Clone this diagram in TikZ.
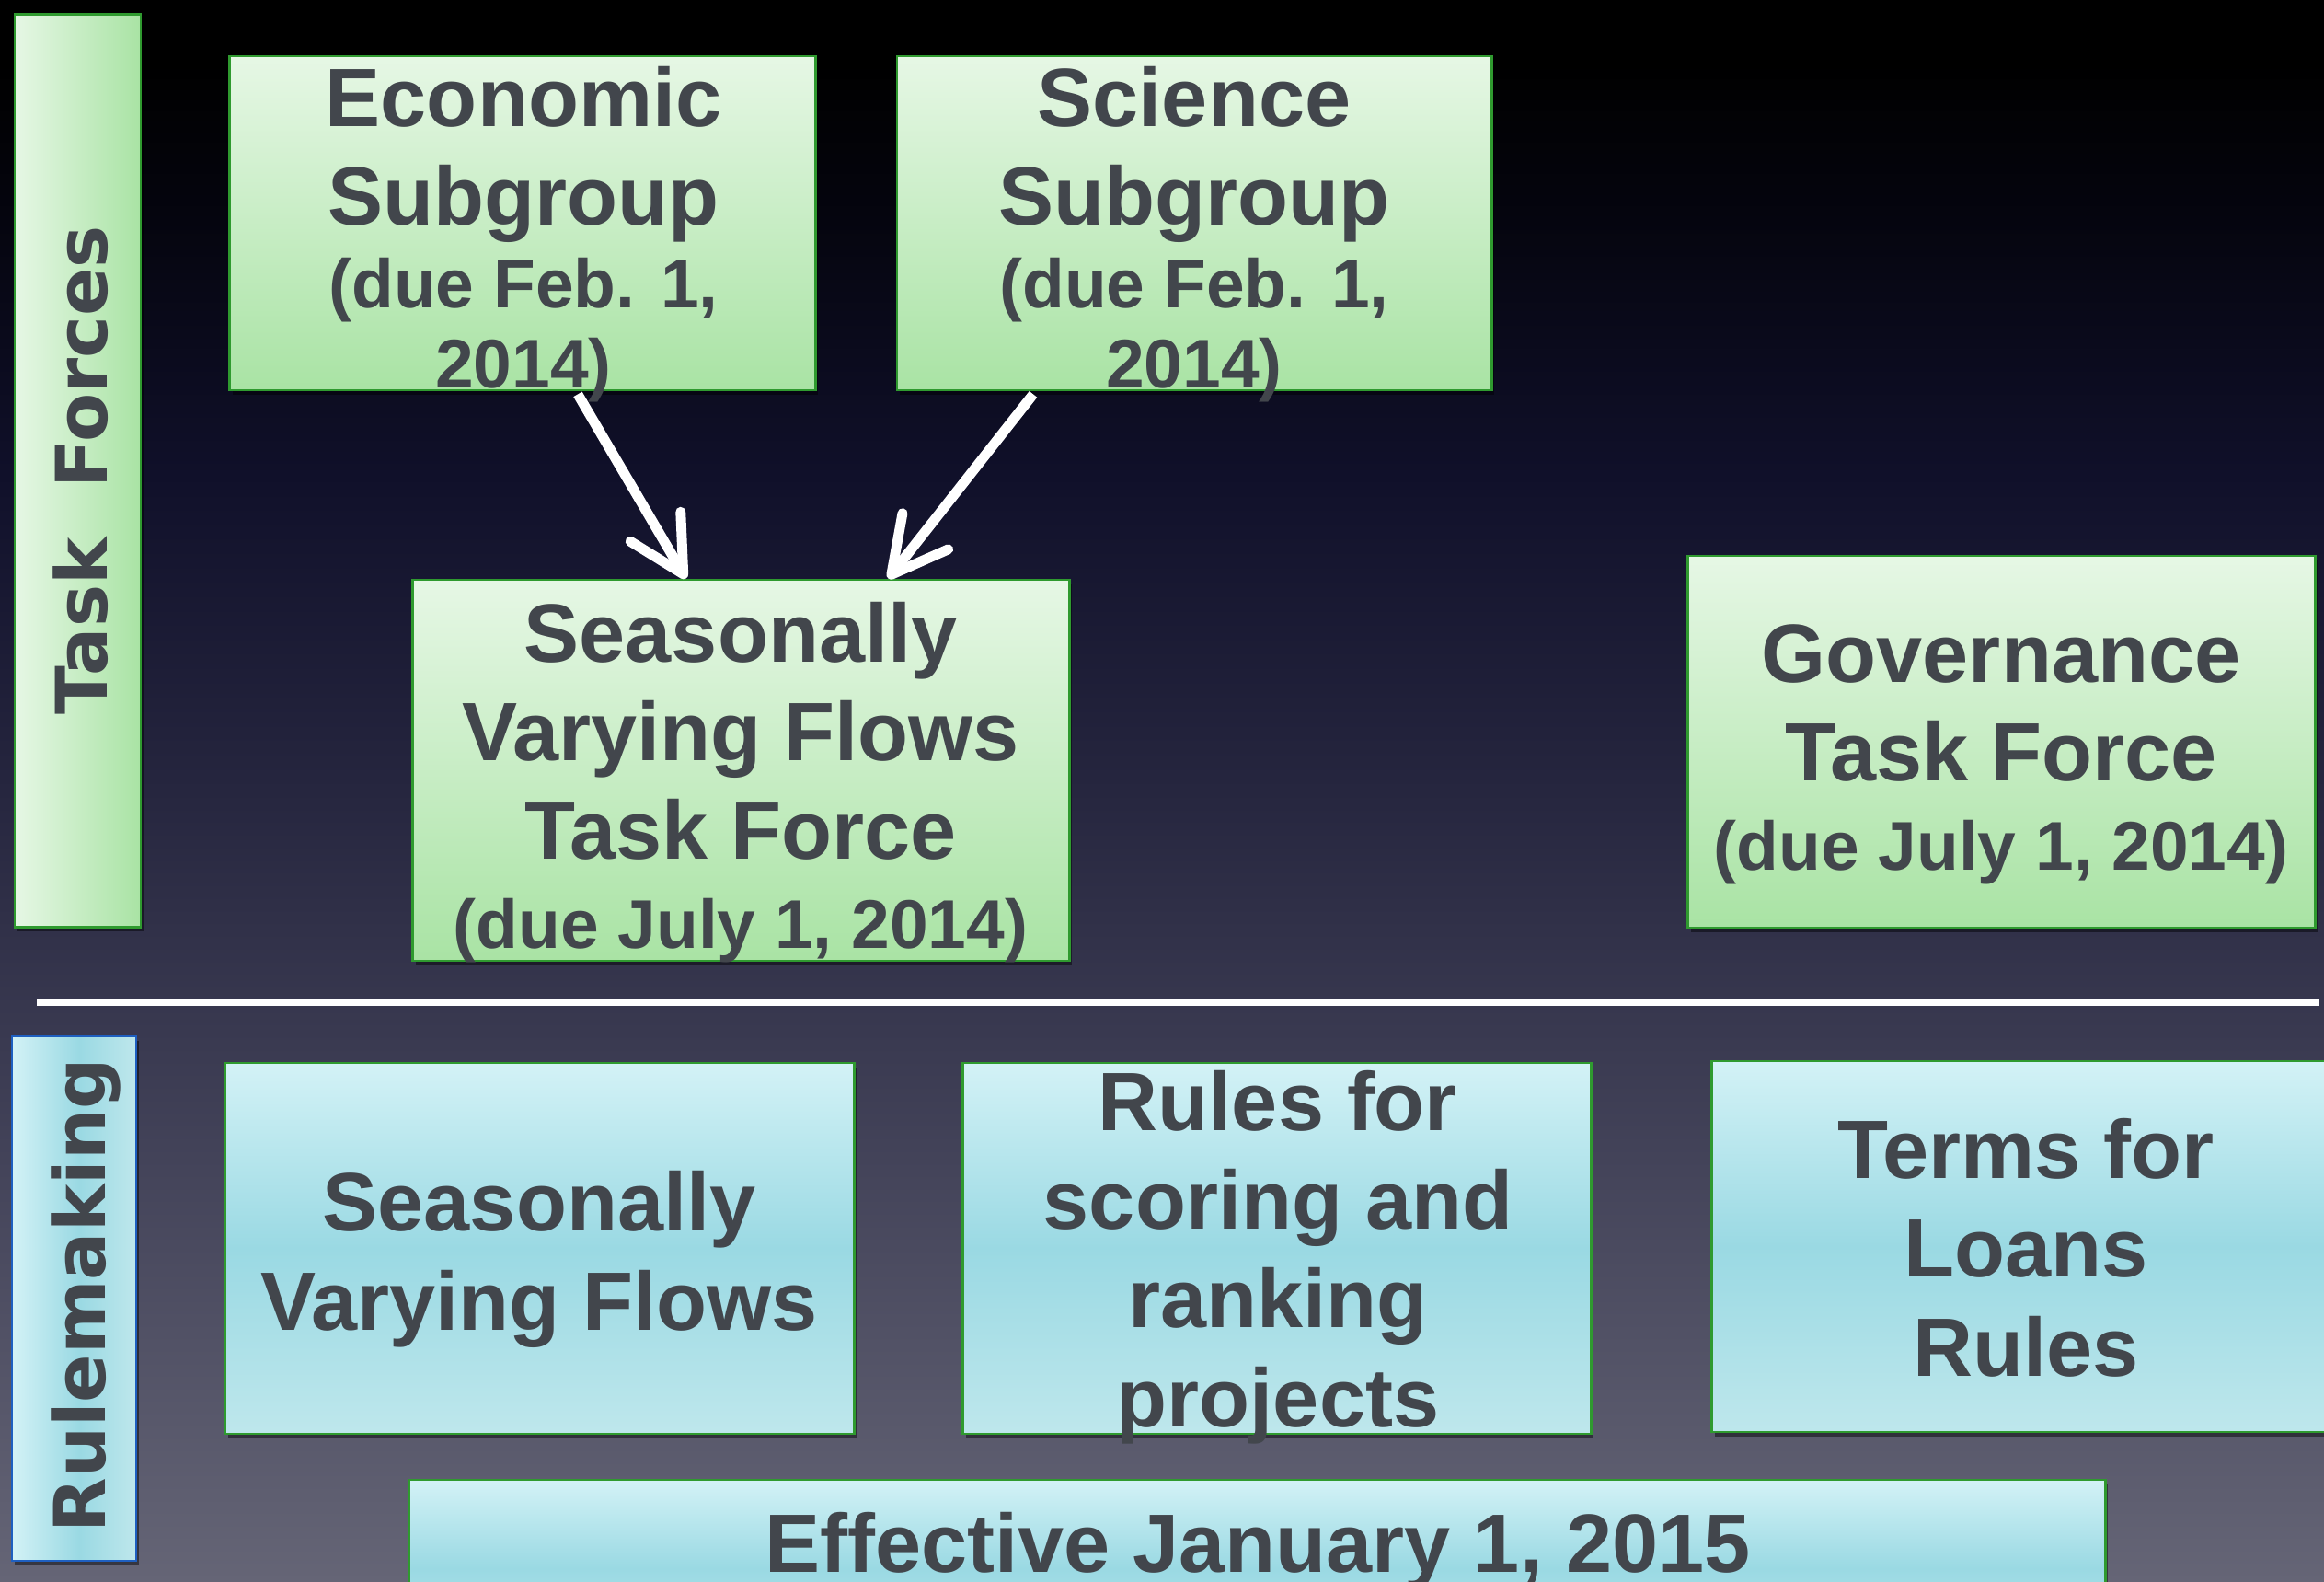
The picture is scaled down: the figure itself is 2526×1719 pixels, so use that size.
\documentclass[tikz,border=0pt]{standalone}
\usepackage{fontspec}
\setmainfont{Liberation Sans}
\newfontfamily\vfont{DejaVu Sans}
\usetikzlibrary{arrows.meta,calc,shadows}
\definecolor{txtc}{HTML}{42464C}
\definecolor{gtop}{HTML}{E6F7E5}
\definecolor{gbot}{HTML}{A9E3A4}
\definecolor{gbord}{HTML}{2F9A2F}
\definecolor{ctop}{HTML}{D3F2F6}
\definecolor{cmid}{HTML}{9AD9E3}
\definecolor{cbot}{HTML}{BEE7EC}
\definecolor{bbord}{HTML}{1E5FC0}
\definecolor{bgA}{HTML}{000000}
\definecolor{bgB}{HTML}{05050F}
\definecolor{bgC}{HTML}{10102A}
\definecolor{bgD}{HTML}{26263F}
\definecolor{bgE}{HTML}{44445A}
\definecolor{bgF}{HTML}{656576}
\pgfdeclareverticalshading{bgsh}{100bp}{color(0bp)=(bgF); color(25bp)=(bgF); color(38bp)=(bgE); color(50bp)=(bgD); color(60bp)=(bgC); color(68bp)=(bgB); color(73bp)=(bgA); color(100bp)=(bgA)}
\pgfdeclareverticalshading{cyanv}{100bp}{color(0bp)=(cbot); color(25bp)=(cbot); color(50bp)=(cmid); color(75bp)=(ctop); color(100bp)=(ctop)}
\pgfdeclarehorizontalshading{cyanh}{100bp}{color(0bp)=(ctop); color(25bp)=(ctop); color(52bp)=(cmid); color(75bp)=(cbot); color(100bp)=(cbot)}
\newcommand\bigf{\fontsize{25.6pt}{30.5pt}\selectfont}
\newcommand\smf{\fontsize{21.3pt}{25pt}\selectfont}
\tikzset{
  shad/.style={drop shadow={shadow xshift=0.8pt, shadow yshift=-1.4pt, opacity=0.45, fill=black}},
  gbox/.style={rectangle, inner sep=0pt, draw=gbord, line width=0.75pt, top color=gtop, bottom color=gbot, shad},
  cbox/.style={rectangle, inner sep=0pt, draw=gbord, line width=0.75pt, shading=cyanv, shad},
  gbar/.style={rectangle, inner sep=0pt, draw=gbord, line width=0.75pt, left color=gtop, right color=gbot, shad},
  cbar/.style={rectangle, inner sep=0pt, draw=bbord, line width=0.75pt, shading=cyanh, shad},
  txt/.style={text=txtc, font=\bigf\bfseries, align=center, inner sep=0pt, anchor=base},
  vlab/.style={text=txtc, font=\vfont\bfseries\fontsize{22pt}{26pt}\selectfont, inner sep=0pt, rotate=90},
  arr/.style={white, line width=3.1pt, -{Straight Barb[length=17pt, width=18pt, round]}}
}
\begin{document}
\begin{tikzpicture}[x=0.01cm, y=-0.01cm]
\clip (0,0) rectangle (2526,1719);
\shade[shading=bgsh] (0,0) rectangle (2526,1719);
% Task Forces section
\node[gbar, minimum width=1.37cm, minimum height=9.91cm] (tfbar) at (84.5,511.5) {};
\node[gbox, minimum width=6.36cm, minimum height=3.63cm] (eco) at (568,242.5) {};
\node[gbox, minimum width=6.46cm, minimum height=3.63cm] (sci) at (1298,242.5) {};
\node[gbox, minimum width=7.13cm, minimum height=4.14cm] (svft) at (805.5,837) {};
\node[gbox, minimum width=6.81cm, minimum height=4.04cm] (gov) at (2175.5,806) {};
% separator
\coordinate (sepL) at (40,1089);
\coordinate (sepR) at (2521,1089);
\draw[white, line width=2.1pt] (sepL) -- (sepR);
% Rulemaking section
\node[cbar, minimum width=1.35cm, minimum height=5.70cm] (rmbar) at (80.5,1411) {};
\node[cbox, minimum width=6.83cm, minimum height=4.03cm] (svfr) at (586.5,1356.5) {};
\node[cbox, minimum width=6.82cm, minimum height=4.03cm] (rules) at (1388,1356.5) {};
\node[cbox, minimum width=6.84cm, minimum height=4.03cm] (terms) at (2203,1354.5) {};
\node[cbox, minimum width=18.43cm, minimum height=1.92cm] (eff) at (1366.5,1704) {};
% arrows
\draw[arr] ($(eco.south)+(60,3)$) -- ($(svft.north)+(-60,0)$);
\draw[arr] ($(sci.south)+(-175,3)$) -- ($(svft.north)+(160,0)$);
% texts
\node[vlab] (tflab) at (88,511) {Task\ \ Forces};
\node[vlab] (rmlab) at (93,1408) {Rulemaking};
\node[txt] (ecot) at (569,422) {Economic\\Subgroup\\[-4.9pt]{\smf (due Feb. 1,}\\[-5.75pt]{\smf 2014)}};
\node[txt] (scit) at (1298,422) {Science\\Subgroup\\[-4.9pt]{\smf (due Feb. 1,}\\[-5.75pt]{\smf 2014)}};
\node[txt] (svftt) at (805,1031) {Seasonally\\Varying Flows\\Task Force\\[-2.9pt]{\smf (due July 1, 2014)}};
\node[txt] (govt) at (2175,946) {Governance\\Task Force\\[-2.9pt]{\smf (due July 1, 2014)}};
\node[txt] (svfrt) at (586,1445) {Seasonally\\Varying Flows};
\node[txt] (rulest) at (1389,1550) {Rules for\\scoring and\\ranking\\projects};
\node[txt] (termst) at (2202,1495) {Terms for\\Loans\\Rules};
\node[txt] (efft) at (1367,1708) {Effective January 1, 2015};
\end{tikzpicture}
\end{document}
